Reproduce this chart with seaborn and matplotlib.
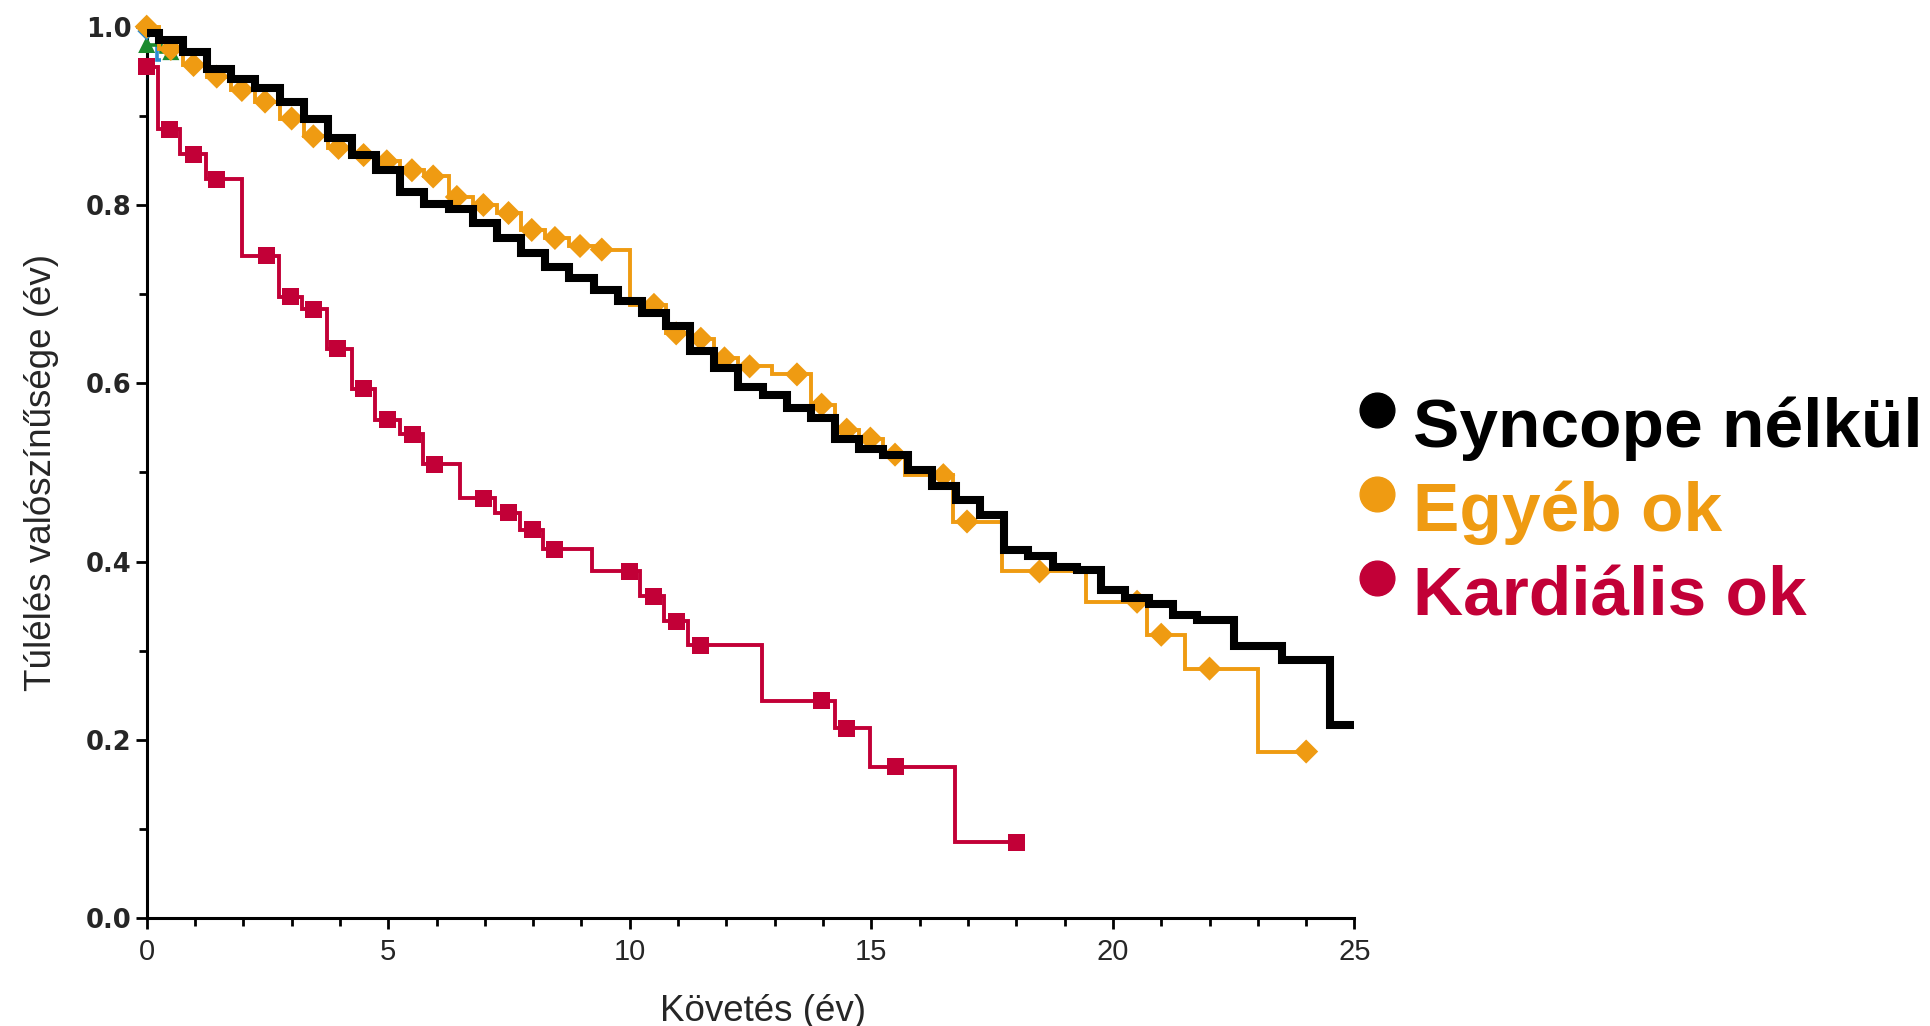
import numpy as np
import pandas as pd
import seaborn as sns
import matplotlib.pyplot as plt
from matplotlib.lines import Line2D

sns.set_theme(style="ticks")
plt.rcParams['font.family'] = ['Liberation Sans', 'DejaVu Sans']

# Syncope nélkül: step times (év) and survival after each step
ns_t = [0, 0.25, 0.75, 1.25, 1.75, 2.25, 2.75, 3.25, 3.75, 4.25, 4.75, 5.25,
        5.75, 6.25, 6.75, 7.25, 7.75, 8.25, 8.75, 9.25, 9.75, 10.25, 10.75,
        11.25, 11.75, 12.25, 12.75, 13.25, 13.75, 14.25, 14.75, 15.25, 15.75,
        16.25, 16.75, 17.25, 17.75, 18.25, 18.75, 19.25, 19.75, 20.25, 20.75,
        21.25, 21.75, 22.5, 23.5, 24.5]
ns_s = [0.993, 0.985, 0.972, 0.952, 0.941, 0.931, 0.916, 0.897, 0.875, 0.856,
        0.839, 0.815, 0.801, 0.795, 0.780, 0.763, 0.746, 0.731, 0.718, 0.705,
        0.692, 0.679, 0.664, 0.636, 0.617, 0.596, 0.587, 0.572, 0.561, 0.538,
        0.526, 0.520, 0.503, 0.485, 0.469, 0.452, 0.413, 0.406, 0.394, 0.391,
        0.368, 0.359, 0.353, 0.340, 0.335, 0.305, 0.290, 0.217]
ns_end = 25.0

# Egyéb ok
oth_t = [0, 0.25, 0.75, 1.25, 1.75, 2.25, 2.75, 3.25, 3.75, 4.25, 4.75, 5.25,
         5.75, 6.25, 6.75, 7.25, 7.75, 8.25, 8.75, 9.25, 10.0, 10.75, 11.25,
         11.75, 12.25, 12.95, 13.75, 14.25, 14.75, 15.25, 15.7, 16.7, 17.7,
         19.45, 20.7, 21.5, 23.0]
oth_s = [1.0, 0.975, 0.957, 0.944, 0.929, 0.916, 0.897, 0.877, 0.864, 0.856,
         0.849, 0.839, 0.832, 0.809, 0.800, 0.791, 0.772, 0.763, 0.754, 0.750,
         0.688, 0.656, 0.650, 0.628, 0.619, 0.610, 0.576, 0.548, 0.538, 0.520,
         0.497, 0.445, 0.389, 0.355, 0.318, 0.280, 0.187]
oth_end = 24.0
oth_mark_t = [0, 0.5, 0.97, 1.45, 1.97, 2.45, 3.0, 3.45, 3.97, 4.49, 4.97,
              5.49, 5.93, 6.42, 6.97, 7.49, 7.97, 8.45, 8.97, 9.42, 10.5,
              10.96, 11.47, 11.96, 12.48, 13.46, 13.97, 14.49, 14.98, 15.49,
              16.49, 16.98, 18.48, 20.5, 21.0, 22.0, 24.0]

# Kardiális ok
card_t = [0, 0.23, 0.7, 1.22, 1.97, 2.73, 3.22, 3.73, 4.24, 4.73, 5.24, 5.71,
          6.49, 7.21, 7.73, 8.2, 9.21, 10.21, 10.7, 11.21, 12.73, 14.24,
          14.98, 16.73]
card_s = [0.955, 0.885, 0.857, 0.829, 0.743, 0.697, 0.683, 0.639, 0.594,
          0.559, 0.543, 0.509, 0.471, 0.455, 0.436, 0.414, 0.389, 0.361,
          0.333, 0.306, 0.244, 0.213, 0.170, 0.085]
card_end = 18.0
card_mark_t = [0, 0.48, 0.97, 1.45, 2.48, 2.97, 3.45, 3.95, 4.49, 4.98, 5.5,
               5.96, 6.97, 7.49, 7.99, 8.45, 9.99, 10.5, 10.96, 11.47, 13.97,
               14.49, 15.49, 18.0]

# two small extra curves visible only at the start
green_t, green_s, green_end, green_mark_t = [0, 0.3], [0.980, 0.972], 0.6, [0, 0.5]
blue_t, blue_s, blue_end, blue_mark_t = [0, 0.22], [0.995, 0.963], 0.3, [0]

groups = ["Syncope nélkül", "Egyéb ok", "Kardiális ok"]
colors = ["black", "#EF9B12", "#C20037"]


def step_df(t, s, end):
    return pd.DataFrame({"t": list(t) + [end], "s": list(s) + [s[-1]]})


def mark_df(t, s, mt):
    idx = np.searchsorted(t, mt, side="right") - 1
    return pd.DataFrame({"t": mt, "s": np.asarray(s)[idx]})


fig = plt.figure(figsize=(19.3, 10.26), dpi=100)
ax = fig.add_axes([0.076, 0.105, 0.6258, 0.869])

line_kw = dict(estimator=None, sort=False, drawstyle="steps-post",
               solid_joinstyle="miter", solid_capstyle="butt", clip_on=False)

sns.lineplot(data=step_df(blue_t, blue_s, blue_end), x="t", y="s", ax=ax,
             color="#2A8BD0", linewidth=2.6, **line_kw)
sns.lineplot(data=step_df(green_t, green_s, green_end), x="t", y="s", ax=ax,
             color="#1B8A2E", linewidth=2.6, **line_kw)
sns.scatterplot(data=mark_df(green_t, green_s, green_mark_t), x="t", y="s",
                ax=ax, marker="^", s=150, color="#1B8A2E", edgecolor="none",
                clip_on=False, zorder=3)
sns.scatterplot(data=mark_df(blue_t, blue_s, blue_mark_t), x="t", y="s",
                ax=ax, marker="D", s=90, color="#2A8BD0", edgecolor="none",
                clip_on=False, zorder=3)

sns.lineplot(data=step_df(card_t, card_s, card_end), x="t", y="s", ax=ax,
             color=colors[2], linewidth=2.8, **line_kw)
sns.scatterplot(data=mark_df(card_t, card_s, card_mark_t), x="t", y="s",
                ax=ax, marker="s", s=150, color=colors[2], edgecolor="none",
                clip_on=False, zorder=3)

sns.lineplot(data=step_df(oth_t, oth_s, oth_end), x="t", y="s", ax=ax,
             color=colors[1], linewidth=2.8, **line_kw)
sns.scatterplot(data=mark_df(oth_t, oth_s, oth_mark_t), x="t", y="s",
                ax=ax, marker="D", s=150, color=colors[1], edgecolor="none",
                clip_on=False, zorder=3)

sns.lineplot(data=step_df(ns_t, ns_s, ns_end), x="t", y="s", ax=ax,
             color=colors[0], linewidth=5.8, zorder=4, **line_kw)

ax.set_xlim(0, 25)
ax.set_ylim(0, 1)
ax.set_xticks(np.arange(0, 26, 5))
ax.set_xticks(np.arange(0, 26, 1), minor=True)
ax.set_yticks(np.arange(0, 1.01, 0.2))
ax.set_yticks(np.arange(0, 1.01, 0.1), minor=True)
sns.despine(ax=ax)
for sp in ["left", "bottom"]:
    ax.spines[sp].set_linewidth(2.2)
    ax.spines[sp].set_color("black")
ax.tick_params(which="major", length=8, width=2, color="black")
ax.tick_params(which="minor", length=5.5, width=2, color="black")
ax.tick_params(axis="x", labelsize=21, pad=6)
ax.tick_params(axis="y", labelsize=18.5, pad=3)
for lab in ax.get_yticklabels():
    lab.set_fontfamily("DejaVu Sans")
    lab.set_fontweight("bold")

ax.set_xlabel("Követés (év)", fontsize=26.5, labelpad=17)
ax.set_ylabel("Túlélés valószínűsége (év)", fontsize=26.5, labelpad=19)
ax.xaxis.set_label_coords(0.51, -0.085)

# legend: coloured dots with bold coloured labels
for i, (lab, col) in enumerate(zip(groups, colors)):
    fig.add_artist(Line2D([0.7133], [0.6004 - i * 0.0819], marker="o",
                          markersize=25, color=col, linestyle="none",
                          transform=fig.transFigure))
    fig.text(0.732, 0.5643 - i * 0.0819, lab, color=col, fontsize=50,
             fontweight="bold", va="baseline", ha="left")

fig.savefig("out.png", dpi=100, facecolor="white")
